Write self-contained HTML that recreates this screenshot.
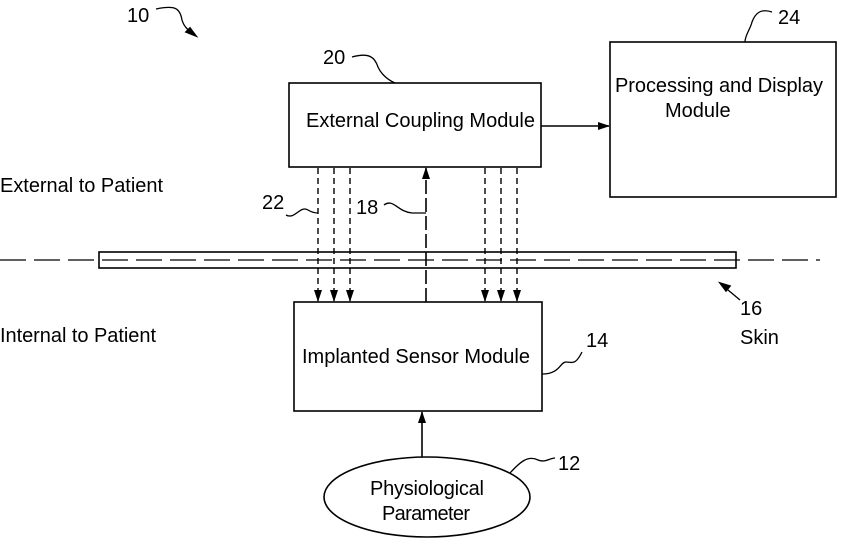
<!DOCTYPE html>
<html><head><style>
body{margin:0;background:#fff;}
svg{display:block;font-family:"Liberation Sans",sans-serif;}
text{font-size:20px;fill:#000;}
</style></head><body>
<svg width="846" height="540" viewBox="0 0 846 540" xmlns="http://www.w3.org/2000/svg">
<defs>
<marker id="a" markerWidth="12" markerHeight="8" refX="11" refY="4" orient="auto" markerUnits="userSpaceOnUse" viewBox="0 0 12 8">
<path d="M0,0 L12,4 L0,8 Z" fill="#000"/></marker>
</defs>
<g fill="none" stroke="#000" stroke-width="1.6">
<rect x="289" y="83" width="252" height="84"/>
<rect x="610" y="42" width="226" height="155"/>
<rect x="294" y="302" width="248" height="109"/>
<ellipse cx="427" cy="497" rx="103" ry="40"/>
<rect x="99" y="252" width="637" height="16"/>
<line x1="0" y1="260" x2="820" y2="260" stroke-dasharray="26,8" stroke-width="1.2"/>
<g stroke-dasharray="6,4" stroke-width="1.4">
<line x1="318" y1="168" x2="318" y2="301" marker-end="url(#a)"/>
<line x1="334" y1="168" x2="334" y2="301" marker-end="url(#a)"/>
<line x1="350" y1="168" x2="350" y2="301" marker-end="url(#a)"/>
<line x1="485" y1="168" x2="485" y2="301" marker-end="url(#a)"/>
<line x1="501" y1="168" x2="501" y2="301" marker-end="url(#a)"/>
<line x1="517" y1="168" x2="517" y2="301" marker-end="url(#a)"/>
</g>
<line x1="426" y1="302" x2="426" y2="168" stroke-dasharray="14,4" marker-end="url(#a)"/>
<line x1="422" y1="457" x2="422" y2="412" marker-end="url(#a)"/>
<line x1="541" y1="126" x2="609" y2="126" marker-end="url(#a)"/>
<g stroke-width="1.3">
<path d="M156,9 C175,5 180,8 182,20 C184,27 188,30 196,36"/>
<path d="M352,57 C370,52 375,58 378,67 C381,74 388,80 395,83"/>
<path d="M772,12 C760,8 755,14 752,22 C750,30 745,35 745,42"/>
<path d="M286,215 C295,220 300,205 308,210 C313,213 316,213 318,213"/>
<path d="M384,205 C393,198 398,212 412,213 L426,213"/>
<path d="M542,374 C560,374 560,362 566,362 C572,362 575,366 582,352"/>
<path d="M510,473 C520,462 528,455 538,460 C545,463 550,458 555,458"/>
<path d="M740,300 L722,285"/>
</g>
<path d="M196,36 L186,32 L190,28 Z" fill="#000"/>
<path d="M720,283 L730,286 L726,291 Z" fill="#000"/>
</g>
<text x="127" y="22">10</text>
<text x="323" y="64">20</text>
<text x="778" y="24">24</text>
<text x="615" y="92" textLength="208">Processing and Display</text>
<text x="665" y="117">Module</text>
<text x="306" y="127" textLength="229">External Coupling Module</text>
<text x="0" y="192" textLength="163">External to Patient</text>
<text x="262" y="209">22</text>
<text x="356" y="214">18</text>
<text x="0" y="342" textLength="156">Internal to Patient</text>
<text x="302" y="363" textLength="228">Implanted Sensor Module</text>
<text x="586" y="347">14</text>
<text x="740" y="315">16</text>
<text x="740" y="344">Skin</text>
<text x="370" y="495" textLength="114">Physiological</text>
<text x="382" y="520" textLength="88">Parameter</text>
<text x="558" y="470">12</text>
</svg>
</body></html>
